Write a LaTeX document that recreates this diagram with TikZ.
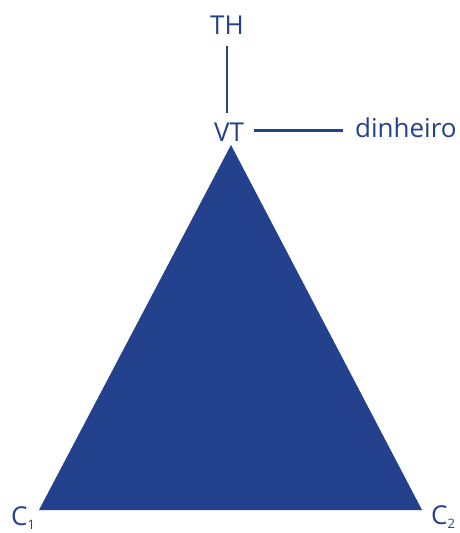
\documentclass[tikz,border=0pt]{standalone}
\usepackage{fontspec}
\setmainfont{Open Sans}
\usepackage{xcolor}
\usepackage{tikz}
\definecolor{azul}{RGB}{36,65,141}
\newcommand{\indice}[1]{\raisebox{-0.3ex}{\fontsize{13}{15}\selectfont #1}}

\begin{document}
\begin{tikzpicture}[
    x=1pt, y=-1pt,
    lbl/.style={inner sep=0pt, text=azul, font=\fontsize{26}{30}\selectfont},
    link/.style={draw=azul, line width=2.2pt, shorten <=10pt, shorten >=10pt},
]
\useasboundingbox (0,0) rectangle (460,533);
\coordinate (topo) at (231,145);
\coordinate (esq) at (39,510);
\coordinate (dir) at (422,510);
\fill[azul] (esq) -- (topo) -- (dir) -- cycle;
\node[lbl] (th) at (227,25) {TH};
\node[lbl] (vt) at (229,132) {VT};
\node[lbl, anchor=west] (dinh) at (355,128) {dinheiro};
\node[lbl, anchor=west] (c1) at (11,518) {C\indice{1}};
\node[lbl, anchor=west] (c2) at (431,517) {C\indice{2}};
\draw[link, shorten <=12pt] (th) -- (th |- vt.north);
\draw[link, shorten >=12pt] (vt.east |- 0,130.5) -- (dinh.west |- 0,130.5);
\end{tikzpicture}
\end{document}
